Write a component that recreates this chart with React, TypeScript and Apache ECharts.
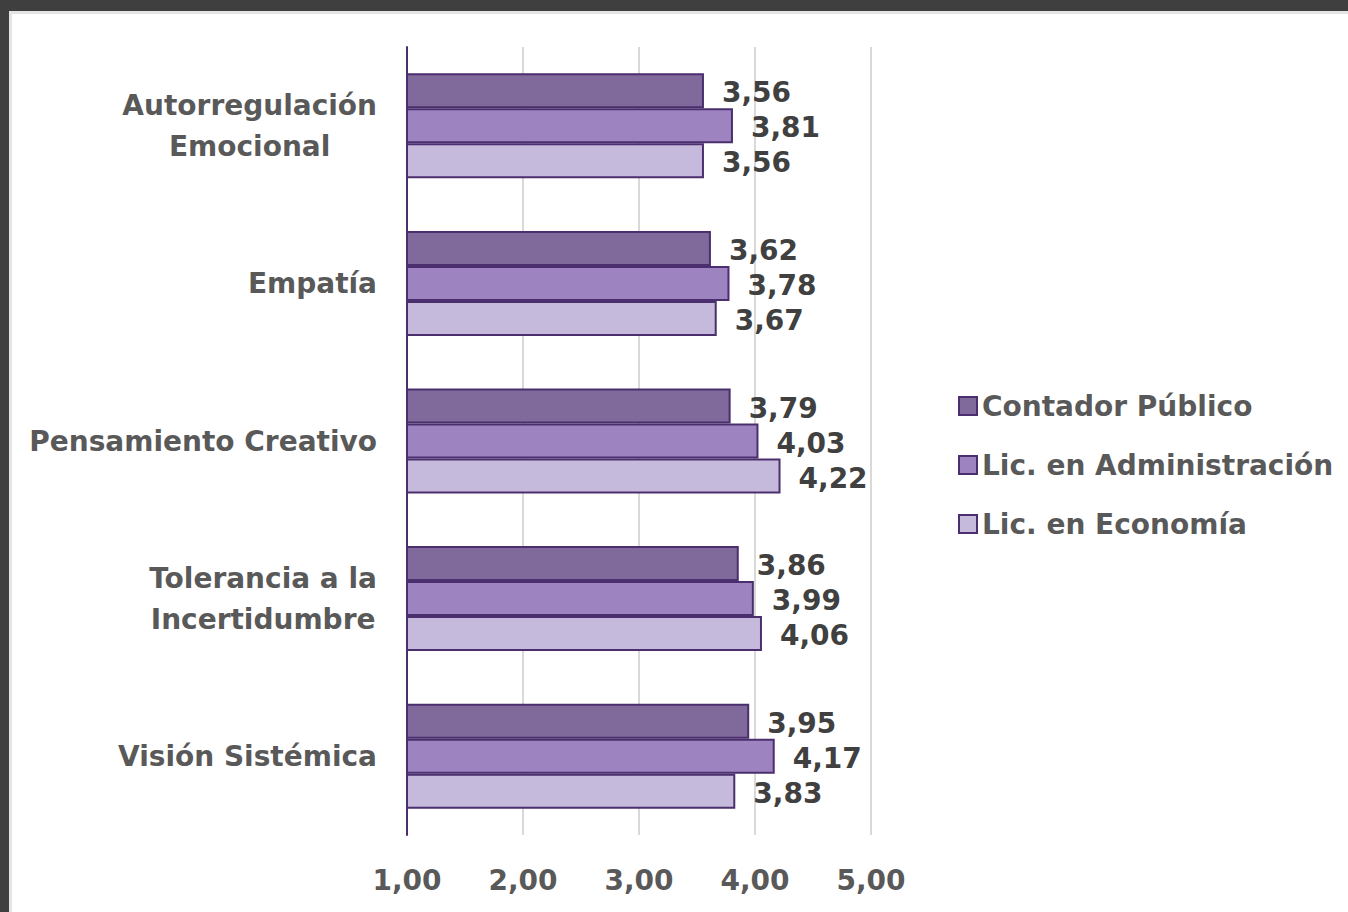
import React, { useEffect, useRef } from "react";
import * as echarts from "echarts";

const categories = [
  "Autorregulación\nEmocional",
  "Empatía",
  "Pensamiento Creativo",
  "Tolerancia a la\nIncertidumbre",
  "Visión Sistémica",
];
const seriesNames = ["Contador Público", "Lic. en Administración", "Lic. en Economía"];
const contador = [3.56, 3.62, 3.79, 3.86, 3.95];
const administracion = [3.81, 3.78, 4.03, 3.99, 4.17];
const economia = [3.56, 3.67, 4.22, 4.06, 3.83];
const colors = ["#7f6a9b", "#9d84c0", "#c6badc"];

const FONT = "DejaVu Sans";
const FS = 28;
const fmt = (v: number) => v.toFixed(2).replace(".", ",");

export default function App() {
  const ref = useRef<HTMLDivElement>(null);
  useEffect(() => {
    if (!ref.current) return;
    const chart = echarts.init(ref.current, undefined, { renderer: "svg" });
    const values = [contador, administracion, economia];
    chart.setOption({
      animation: false,
      grid: { left: 407, right: 477, top: 47, bottom: 77, containLabel: false },
      legend: {
        orient: "vertical",
        left: 953,
        top: 387,
        itemWidth: 18,
        itemHeight: 18,
        itemGap: 31,
        icon: "rect",
        textStyle: { fontFamily: FONT, fontWeight: "bold", fontSize: FS, color: "#595959", lineHeight: 28 },
        data: seriesNames,
      },
      xAxis: {
        type: "value",
        min: 1,
        max: 5,
        interval: 1,
        axisLine: { show: false },
        axisTick: { show: false },
        splitLine: { show: true, lineStyle: { color: "#d9d9d9", width: 2 } },
        axisLabel: {
          margin: 31,
          formatter: (v: number) => fmt(v),
          fontFamily: FONT,
          fontWeight: "bold",
          fontSize: FS,
          color: "#595959",
        },
      },
      yAxis: {
        type: "category",
        inverse: true,
        data: categories,
        axisLine: { show: true, lineStyle: { color: "#4b2e6e", width: 2 } },
        axisTick: { show: false },
        axisLabel: {
          margin: 30,
          align: "right",
          formatter: (v: string) => v.split("\n").map((l) => `{c|${l}}`).join("\n"),
          rich: {
            c: {
              align: "center",
              fontFamily: FONT,
              fontWeight: "bold",
              fontSize: FS,
              color: "#595959",
              lineHeight: 41,
            },
          },
        },
      },
      series: seriesNames.map((name, i) => ({
        name,
        type: "bar",
        data: values[i],
        barWidth: 35,
        barGap: "0%",
        itemStyle: { color: colors[i], borderColor: "#4b2e6e", borderWidth: 2 },
        label: {
          show: true,
          position: "right",
          distance: 18,
          offset: [0, 2],
          formatter: (p: any) => fmt(p.value),
          fontFamily: FONT,
          fontWeight: "bold",
          fontSize: FS,
          color: "#404040",
        },
      })),
    });
    return () => chart.dispose();
  }, []);

  return (
    <div style={{ position: "fixed", left: 0, top: 0, width: 1348, height: 912, background: "#3f3f3f" }}>
      <div
        style={{
          position: "absolute",
          left: 9,
          top: 11,
          width: 1339,
          height: 901,
          background: "#ffffff",
          borderTop: "3px solid #e4e4e4",
          borderLeft: "3px solid #e4e4e4",
          boxSizing: "border-box",
        }}
      />
      <div ref={ref} style={{ position: "absolute", left: 0, top: 0, width: 1348, height: 912 }} />
    </div>
  );
}
